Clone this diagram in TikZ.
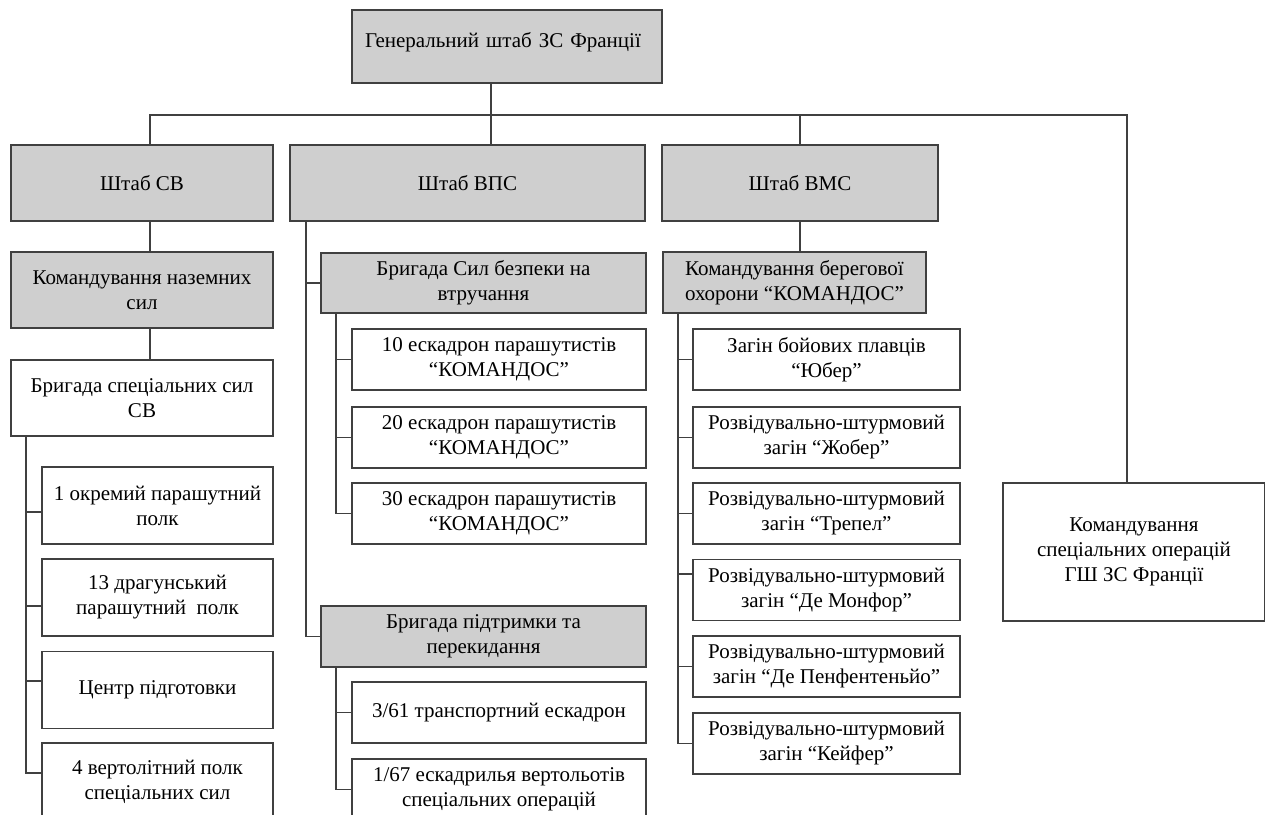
\documentclass[tikz,border=0pt]{standalone}
\usepackage{fontspec}
\setmainfont{Liberation Serif}
\begin{document}
\begin{tikzpicture}[x=1pt,y=-1pt,
    box/.style={draw=black!75,line width=1.2pt,fill=white,inner sep=0pt,align=center,
      font=\fontsize{21}{25}\selectfont,text=black},
    grey/.style={box,fill=black!19},
    link/.style={draw=black!75,line width=1.1pt}]
    \useasboundingbox (0,0) rectangle (1265,814);

    % Верхній рівень
    \node[grey,minimum width=310,minimum height=73,text width=284,align=left,
      text height=14,text depth=13] (gsh) at (507,46.5) {Генеральний штаб ЗС Франції};
    \node[grey,minimum width=262,minimum height=76] (shsv) at (142,183) {Штаб СВ};
    \node[grey,minimum width=355,minimum height=76] (shvps) at (467.5,183) {Штаб ВПС};
    \node[grey,minimum width=276,minimum height=76] (shvms) at (800,183) {Штаб ВМС};
    \node[box,minimum width=262,minimum height=138] (kso) at (1134,552) {Командування\\спеціальних операцій\\ГШ ЗС Франції};

    % СВ
    \node[grey,minimum width=262,minimum height=76] (kns) at (142,290) {Командування наземних\\сил};
    \node[box,minimum width=262,minimum height=76] (bss) at (142,398) {Бригада спеціальних сил\\СВ};
    \node[box,minimum width=231,minimum height=77] (sv1) at (157.5,505.5) {1 окремий парашутний\\полк};
    \node[box,minimum width=231,minimum height=77] (sv2) at (157.5,597.5) {13 драгунський\\парашутний\ \ полк};
    \node[box,minimum width=231,minimum height=77] (sv3) at (157.5,690) {Центр підготовки};
    \node[box,minimum width=231,minimum height=77] (sv4) at (157.5,781.5) {4 вертолітний полк\\спеціальних сил};

    % ВПС
    \node[grey,minimum width=325,minimum height=60] (bsb) at (483.5,283) {Бригада Сил безпеки на\\втручання};
    \node[box,minimum width=294,minimum height=61] (e10) at (499,359.5) {10 ескадрон парашутистів\\“КОМАНДОС”};
    \node[box,minimum width=294,minimum height=61] (e20) at (499,437.5) {20 ескадрон парашутистів\\“КОМАНДОС”};
    \node[box,minimum width=294,minimum height=61] (e30) at (499,513.5) {30 ескадрон парашутистів\\“КОМАНДОС”};
    \node[grey,minimum width=325,minimum height=61] (bpp) at (483.5,636.5) {Бригада підтримки та\\перекидання};
    \node[box,minimum width=294,minimum height=61] (t361) at (499,712.5) {3/61 транспортний ескадрон};
    \node[box,minimum width=294,minimum height=61] (e167) at (499,789.5) {1/67 ескадрилья вертольотів\\спеціальних операцій};

    % ВМС
    \node[grey,minimum width=263,minimum height=61] (kbo) at (794.5,282.5) {Командування берегової\\охорони “КОМАНДОС”};
    \node[box,minimum width=267,minimum height=61] (z1) at (826.5,359.5) {Загін бойових плавців\\“Юбер”};
    \node[box,minimum width=267,minimum height=61] (z2) at (826.5,437.5) {Розвідувально-штурмовий\\загін “Жобер”};
    \node[box,minimum width=267,minimum height=61] (z3) at (826.5,513.5) {Розвідувально-штурмовий\\загін “Трепел”};
    \node[box,minimum width=267,minimum height=61] (z4) at (826.5,590) {Розвідувально-штурмовий\\загін “Де Монфор”};
    \node[box,minimum width=267,minimum height=61] (z5) at (826.5,666.5) {Розвідувально-штурмовий\\загін “Де Пенфентеньйо”};
    \node[box,minimum width=267,minimum height=61] (z6) at (826.5,743.5) {Розвідувально-штурмовий\\загін “Кейфер”};

    % Шина
    \coordinate (bus) at (491,115);
    \coordinate (busL) at (150,115);
    \coordinate (busR) at (1127,115);
    \draw[link] (gsh.south -| bus) -- (shvps.north -| bus);
    \draw[link] (shsv.north -| busL) -- (busL) -- (busR) -- (kso.north -| busR);
    \draw[link] (shvms.north |- bus) -- (shvms.north);

    % Вертикальні зв'язки
    \draw[link] (shsv.south -| busL) -- (kns.north -| busL);
    \draw[link] (kns.south -| busL) -- (bss.north -| busL);
    \draw[link] (shvms.south) -- (shvms.south |- kbo.north);

    % Гілки
    \coordinate (svtr) at (26,436);
    \coordinate (vpstr) at (306,221);
    \coordinate (bsbtr) at (336,313);
    \coordinate (bpptr) at (336,667);
    \coordinate (kbotr) at (678,313);
    \foreach \n/\d in {sv1/-6.5,sv2/-8.5,sv3/9,sv4/8.5} \draw[link] (svtr) |- ([yshift=\d pt]\n.west);
    \foreach \n in {bsb,bpp} \draw[link] (vpstr) |- (\n.west);
    \foreach \n in {e10,e20,e30} \draw[link] (bsbtr) |- (\n.west);
    \foreach \n in {t361,e167} \draw[link] (bpptr) |- (\n.west);
    \foreach \n/\d in {z1/0,z2/0,z3/0,z4/16,z5/0,z6/0} \draw[link] (kbotr) |- ([yshift=\d pt]\n.west);
\end{tikzpicture}
\end{document}
